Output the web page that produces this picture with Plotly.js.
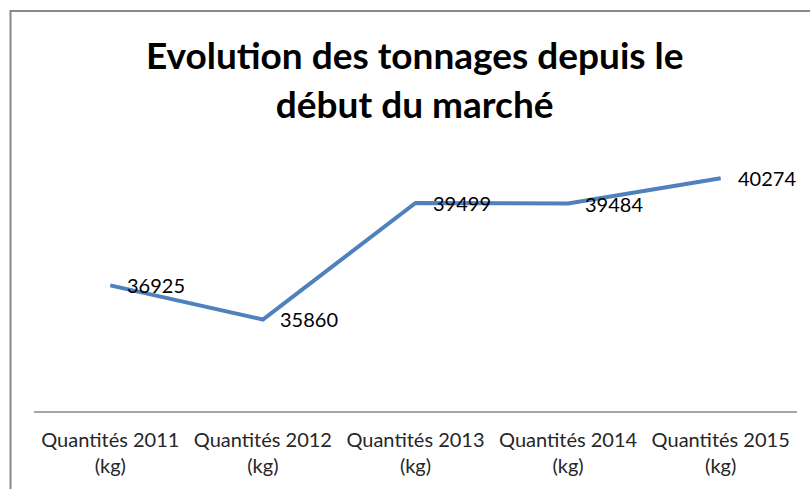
<!DOCTYPE html>
<html>
<head>
<meta charset="utf-8">
<script src="https://cdn.plot.ly/plotly-3.0.1.min.js"></script>
<style>
html,body{margin:0;padding:0;background:#fff;}
#chart{width:810px;height:489px;}
</style>
</head>
<body>
<div id="chart"></div>
<script>
var categories = ["Quantités 2011<br>(kg)", "Quantités 2012<br>(kg)", "Quantités 2013<br>(kg)", "Quantités 2014<br>(kg)", "Quantités 2015<br>(kg)"];
var tonnages = [36925, 35860, 39499, 39484, 40274];
var labels = tonnages.map(function(v){ return String(v); });

var trace = {
  x: categories,
  y: tonnages,
  type: 'scatter',
  mode: 'lines',
  line: {color: '#4F81BD', width: 4},
  hoverinfo: 'skip',
  cliponaxis: false
};

var annotations = categories.map(function(c, i){
  return {
    x: c, y: tonnages[i], xref: 'x', yref: 'y',
    text: labels[i], showarrow: false,
    xanchor: 'left', yanchor: 'middle',
    xshift: 15, yshift: 0,
    font: {family: 'Lato, "Open Sans", sans-serif', size: 20, color: '#000000'}
  };
});

var layout = {
  width: 810,
  height: 489,
  margin: {l: 34, r: 13, t: 155, b: 78},
  paper_bgcolor: '#ffffff',
  plot_bgcolor: '#ffffff',
  showlegend: false,
  title: {
    text: '<b>Evolution des tonnages depuis le<br>début du marché</b>',
    font: {family: 'Lato, "Open Sans", sans-serif', size: 37, color: '#000000'},
    x: 0.512, xanchor: 'center',
    y: 0.858, yanchor: 'middle'
  },
  xaxis: {
    type: 'category',
    range: [-0.5, 4.5],
    showline: true,
    linecolor: '#A6A6A6',
    linewidth: 1.5,
    showgrid: false,
    zeroline: false,
    ticks: '',
    ticklabelstandoff: 10,
    tickfont: {family: 'Lato, "Open Sans", sans-serif', size: 20, color: '#262626'},
    fixedrange: true
  },
  yaxis: {
    range: [33000, 41000],
    visible: false,
    showgrid: false,
    zeroline: false,
    fixedrange: true
  },
  annotations: annotations,
  shapes: [{
    type: 'rect', xref: 'paper', yref: 'paper',
    x0: -0.0308, x1: 1.1, y0: -0.4, y1: 1.5625,
    line: {color: '#888888', width: 2},
    fillcolor: 'rgba(0,0,0,0)',
    layer: 'below'
  }]
};

Plotly.newPlot('chart', [trace], layout, {displayModeBar: false, staticPlot: true});
</script>
</body>
</html>
